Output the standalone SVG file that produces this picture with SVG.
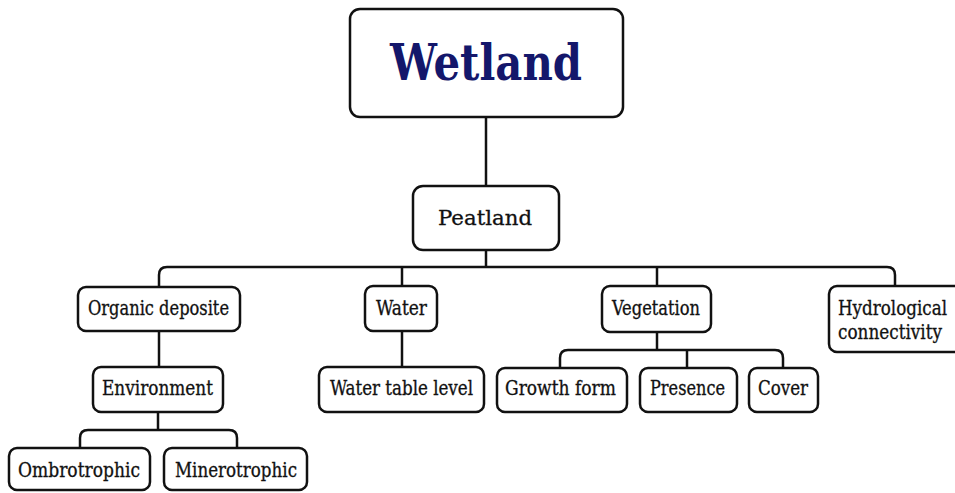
<svg xmlns="http://www.w3.org/2000/svg" width="955" height="493" viewBox="0 0 955 493">
  <style>
    .box { fill: #ffffff; stroke: #111111; stroke-width: 2.5; }
    .lbl { font-family: "DejaVu Serif Condensed", "DejaVu Serif", "Liberation Serif", serif; font-size: 20px; fill: #111111; stroke: #111111; stroke-width: 0.3; }
    .wide { font-family: "DejaVu Serif", "Liberation Serif", serif; }
    .title { font-family: "DejaVu Serif", "Liberation Serif", serif; font-size: 50px; font-weight: bold; fill: #14176b; }
    .conn { fill: none; stroke: #111111; stroke-width: 2.5; }
  </style>
  <rect width="955" height="493" fill="#ffffff"/>

  <!-- connectors -->
  <g id="connectors" class="conn">
    <path d="M486,117 V186"/>
    <path d="M486,250 V267"/>
    <path d="M159,287 V275 Q159,267 167,267 H887 Q895,267 895,275 V286"/>
    <path d="M402,267 V286"/>
    <path d="M657,267 V286"/>
    <path d="M159,331 V367"/>
    <path d="M158,412 V430"/>
    <path d="M80,448 V438 Q80,430 88,430 H229 Q237,430 237,438 V448"/>
    <path d="M402,331 V367"/>
    <path d="M657,332 V350"/>
    <path d="M560,368 V358 Q560,350 568,350 H775 Q783,350 783,358 V368"/>
    <path d="M687,350 V368"/>
  </g>

  <g id="wetland">
    <rect class="box" x="350" y="9" width="273" height="108" rx="10"/>
    <text class="title" x="390" y="80" textLength="192" lengthAdjust="spacingAndGlyphs">Wetland</text>
  </g>
  <g id="peatland">
    <rect class="box" x="413" y="186" width="146" height="64" rx="10"/>
    <text class="lbl wide" x="438" y="225" font-size="23" textLength="94" lengthAdjust="spacingAndGlyphs">Peatland</text>
  </g>
  <g id="organic-deposite">
    <rect class="box" x="78" y="287" width="162" height="44" rx="8"/>
    <text class="lbl" x="88" y="315" textLength="141" lengthAdjust="spacingAndGlyphs">Organic deposite</text>
  </g>
  <g id="water">
    <rect class="box" x="365" y="286" width="72" height="45" rx="8"/>
    <text class="lbl" x="376" y="315" textLength="51" lengthAdjust="spacingAndGlyphs">Water</text>
  </g>
  <g id="vegetation">
    <rect class="box" x="602" y="286" width="109" height="46" rx="8"/>
    <text class="lbl" x="612" y="315" textLength="88" lengthAdjust="spacingAndGlyphs">Vegetation</text>
  </g>
  <g id="hydrological-connectivity">
    <rect class="box" x="829" y="286" width="140" height="66" rx="8"/>
    <text class="lbl" x="838" y="315" textLength="109" lengthAdjust="spacingAndGlyphs">Hydrological</text>
    <text class="lbl" x="838" y="339" textLength="104" lengthAdjust="spacingAndGlyphs">connectivity</text>
  </g>
  <g id="environment">
    <rect class="box" x="93" y="367" width="130" height="45" rx="8"/>
    <text class="lbl" x="102" y="395" textLength="111" lengthAdjust="spacingAndGlyphs">Environment</text>
  </g>
  <g id="water-table-level">
    <rect class="box" x="319" y="367" width="165" height="45" rx="8"/>
    <text class="lbl" x="330" y="395" textLength="143" lengthAdjust="spacingAndGlyphs">Water table level</text>
  </g>
  <g id="growth-form">
    <rect class="box" x="497" y="368" width="130" height="44" rx="8"/>
    <text class="lbl" x="505" y="395" textLength="111" lengthAdjust="spacingAndGlyphs">Growth form</text>
  </g>
  <g id="presence">
    <rect class="box" x="640" y="368" width="97" height="44" rx="8"/>
    <text class="lbl" x="650" y="395" textLength="75" lengthAdjust="spacingAndGlyphs">Presence</text>
  </g>
  <g id="cover">
    <rect class="box" x="749" y="368" width="69" height="44" rx="8"/>
    <text class="lbl" x="758" y="395" textLength="50" lengthAdjust="spacingAndGlyphs">Cover</text>
  </g>
  <g id="ombrotrophic">
    <rect class="box" x="9" y="448" width="141" height="42" rx="8"/>
    <text class="lbl" x="18" y="477" textLength="122" lengthAdjust="spacingAndGlyphs">Ombrotrophic</text>
  </g>
  <g id="minerotrophic">
    <rect class="box" x="164" y="448" width="143" height="42" rx="8"/>
    <text class="lbl" x="175" y="477" textLength="122" lengthAdjust="spacingAndGlyphs">Minerotrophic</text>
  </g>
</svg>
